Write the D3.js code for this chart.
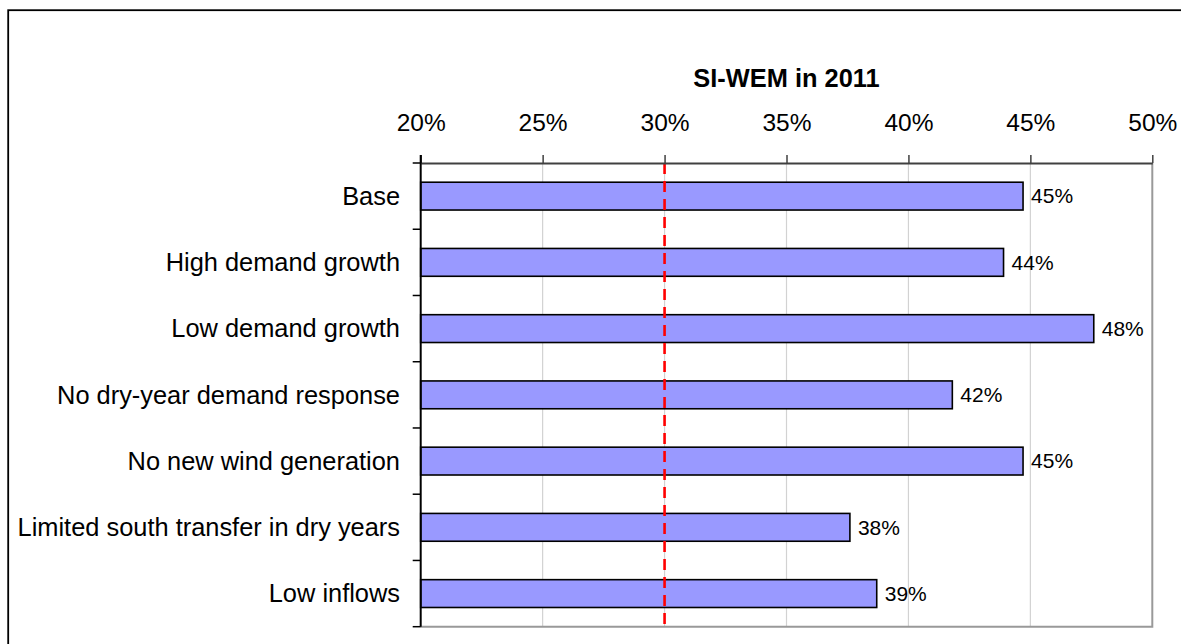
<!DOCTYPE html>
<html>
<head>
<meta charset="utf-8">
<script src="https://cdn.jsdelivr.net/npm/d3@7"></script>
<style>
  html, body { margin: 0; padding: 0; background: #fff; }
  svg { display: block; font-family: "Liberation Sans", Arial, sans-serif; }
</style>
</head>
<body>
<svg id="chart" width="1181" height="644"></svg>
<script>
// Scenario results for SI-WEM in 2011 (share, as a fraction)
const scenarios = [
  "Base",
  "High demand growth",
  "Low demand growth",
  "No dry-year demand response",
  "No new wind generation",
  "Limited south transfer in dry years",
  "Low inflows"
];
const values = [0.447, 0.439, 0.476, 0.418, 0.447, 0.376, 0.387];
const xTicks = [0.20, 0.25, 0.30, 0.35, 0.40, 0.45, 0.50];
const xDomain = [0.20, 0.50];
const referenceLevel = 0.30;
const title = "SI-WEM in 2011";

const svg = d3.select("#chart");

// Outer chart frame
svg.append("rect")
  .attr("x", 8.2).attr("y", 10.2)
  .attr("width", 1300).attr("height", 800)
  .attr("fill", "none").attr("stroke", "#000").attr("stroke-width", 1.8);

const plot = { left: 420.7, right: 1152.3, top: 163, bottom: 626.7 };

const x = d3.scaleLinear().domain(xDomain).range([plot.left, plot.right]);
const y = d3.scaleBand().domain(scenarios)
  .range([plot.top, plot.bottom])
  .paddingInner(0.58).paddingOuter(0.29);

const fmt = d3.format(".0%");

// Vertical gridlines
svg.append("g")
  .selectAll("line")
  .data(xTicks.slice(1, -1))
  .join("line")
  .attr("x1", d => x(d)).attr("x2", d => x(d))
  .attr("y1", plot.top).attr("y2", plot.bottom)
  .attr("stroke", "#d2d2d2").attr("stroke-width", 1.2);

// Right and bottom plot borders
svg.append("path")
  .attr("d", `M${plot.right},${plot.top}V${plot.bottom}H${plot.left}`)
  .attr("fill", "none").attr("stroke", "#999").attr("stroke-width", 2);

// Bars
svg.append("g")
  .selectAll("rect")
  .data(scenarios)
  .join("rect")
  .attr("x", x(xDomain[0]))
  .attr("y", d => y(d))
  .attr("width", (d, i) => x(values[i]) - x(xDomain[0]))
  .attr("height", y.bandwidth())
  .attr("fill", "#9999ff")
  .attr("stroke", "#000").attr("stroke-width", 1.6);

// Reference line
svg.append("line")
  .attr("x1", x(referenceLevel)).attr("x2", x(referenceLevel))
  .attr("y1", plot.top).attr("y2", plot.bottom)
  .attr("stroke", "#ff0000").attr("stroke-width", 2.6)
  .attr("stroke-dasharray", "11,7");

// Top axis
const xAxis = svg.append("g")
  .attr("transform", `translate(0,${plot.top})`)
  .call(d3.axisTop(x).tickValues(xTicks).tickFormat(fmt).tickSize(8).tickSizeOuter(0).tickPadding(24));
xAxis.select(".domain").attr("stroke", "#404040").attr("stroke-width", 2);
xAxis.selectAll(".tick line").attr("stroke", "#404040").attr("stroke-width", 1.5);
xAxis.selectAll(".tick text")
  .attr("fill", "#000")
  .style("font-size", "24.5px")
  .style("font-family", "'Liberation Sans', Arial, sans-serif");

// Left axis with ticks at category boundaries
const boundaries = scenarios.map(d => y(d) - y.step() * y.paddingInner() / 2);
boundaries.push(plot.bottom);
const yAxis = svg.append("g");
yAxis.append("line")
  .attr("x1", plot.left).attr("x2", plot.left)
  .attr("y1", plot.top - 8).attr("y2", plot.bottom)
  .attr("stroke", "#000").attr("stroke-width", 2);
yAxis.selectAll("line.bound")
  .data(boundaries)
  .join("line")
  .attr("class", "bound")
  .attr("x1", plot.left - 8).attr("x2", plot.left)
  .attr("y1", d => d).attr("y2", d => d)
  .attr("stroke", "#000").attr("stroke-width", 1.5);

// Category labels
svg.append("g")
  .selectAll("text")
  .data(scenarios)
  .join("text")
  .attr("x", 400)
  .attr("y", d => y(d) + y.bandwidth() / 2)
  .attr("dy", "0.35em")
  .attr("text-anchor", "end")
  .style("font-size", "25.4px")
  .text(d => d);

// Value labels
svg.append("g")
  .selectAll("text")
  .data(scenarios)
  .join("text")
  .attr("x", (d, i) => x(values[i]) + 8)
  .attr("y", d => y(d) + y.bandwidth() / 2)
  .attr("dy", "0.35em")
  .style("font-size", "21px")
  .text((d, i) => fmt(values[i]));

// Title
svg.append("text")
  .attr("x", (plot.left + plot.right) / 2)
  .attr("y", 86.7)
  .attr("text-anchor", "middle")
  .style("font-size", "25.4px")
  .style("font-weight", "bold")
  .text(title);
</script>
</body>
</html>
